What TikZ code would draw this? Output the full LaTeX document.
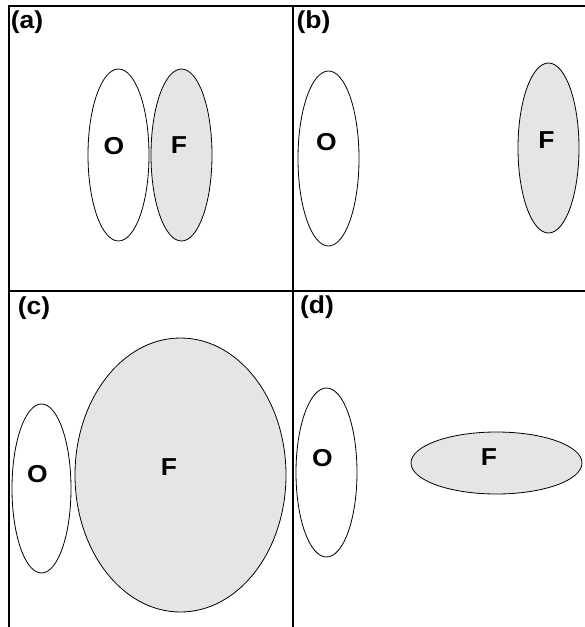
\documentclass[tikz,border=0pt]{standalone}
\usepackage{fontspec}
\setmainfont{Liberation Sans}[FakeStretch=1.08]
\usepackage{tikz}
\usetikzlibrary{shapes.geometric}
\definecolor{fgray}{RGB}{229,229,229}

\begin{document}
\begin{tikzpicture}[x=1pt, y=-1pt,
    every node/.style={font=\fontsize{24.5}{28}\selectfont\bfseries},
    frame/.style={line width=2pt},
    oval/.style={draw, ellipse, line width=0.8pt, inner sep=0pt, fill=white},
    foval/.style={oval, fill=fgray},
    letter/.style={inner sep=0pt},
    tag/.style={inner sep=0pt}
  ]
    \useasboundingbox (0,0) rectangle (585,627);

    % frame lines
    \draw[frame] (9,627) -- (9,5.5) -- (585,5.5);
    \draw[frame] (293,5.5) -- (293,627);
    \draw[frame] (9,291) -- (585,291);

    \foreach \t/\x/\y in {a/27/22, b/313.5/22.5, c/34/308.5, d/317/307} {
      \node[tag] (tag\t) at (\x,\y) {(\t)};
    }

    % (a): touching
    \node[oval, minimum width=61, minimum height=172] (aO) at (118.5,155) {};
    \node[foval, minimum width=61, minimum height=172] (aF) at (181.5,155) {};
    \node[letter] (aOl) at (114,146) {O};
    \node[letter] (aFl) at (179,145.5) {F};

    % (b): apart
    \node[oval, minimum width=61, minimum height=175] (bO) at (328.5,158.5) {};
    \node[foval, minimum width=61, minimum height=170] (bF) at (548.5,148) {};
    \node[letter] (bOl) at (326.5,142) {O};
    \node[letter] (bFl) at (546.5,140.5) {F};

    % (c): large F
    \node[oval, minimum width=59, minimum height=169] (cO) at (41.5,488.5) {};
    \node[foval, minimum width=211, minimum height=274] (cF) at (180.5,475) {};
    \node[letter] (cOl) at (37.5,474.5) {O};
    \node[letter] (cFl) at (169,467) {F};

    % (d): flat F
    \node[oval, minimum width=61, minimum height=169] (dO) at (326.5,472.5) {};
    \node[foval, minimum width=171, minimum height=62] (dF) at (496.5,463) {};
    \node[letter] (dOl) at (322.5,458) {O};
    \node[letter] (dFl) at (489,457.5) {F};
  \end{tikzpicture}
\end{document}
